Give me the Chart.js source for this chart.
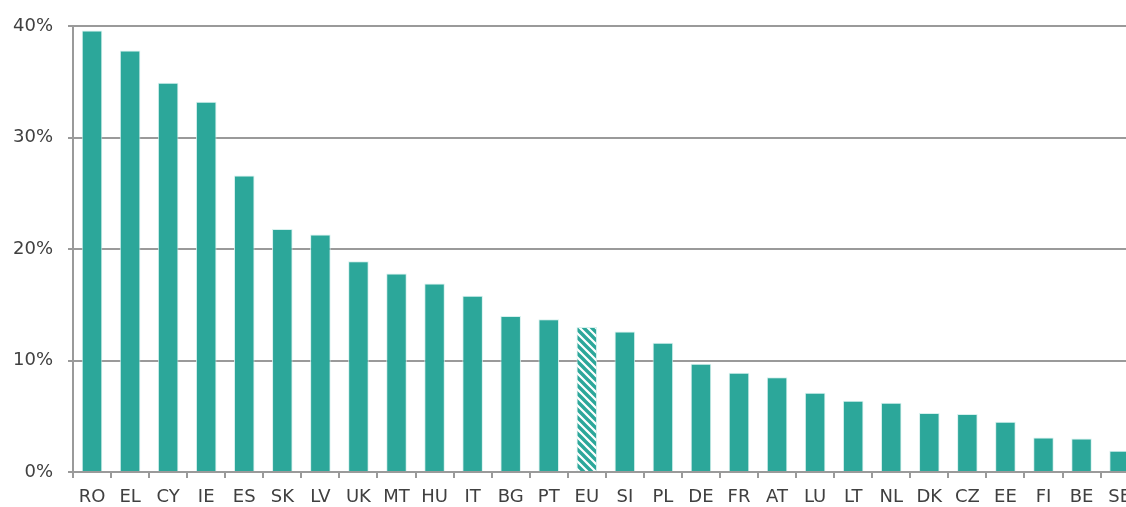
<!DOCTYPE html>
<html>
<head>
<meta charset="utf-8">
<script src="https://cdn.jsdelivr.net/npm/chart.js@4"></script>
<style>
  html, body { margin: 0; padding: 0; background: #fff; overflow: hidden; }
  #wrap { width: 1140px; height: 507px; position: relative; }
</style>
</head>
<body>
<div id="wrap"><canvas id="shareChart"></canvas></div>
<script>
// country codes along the x axis
const countries = ['RO', 'EL', 'CY', 'IE', 'ES', 'SK', 'LV', 'UK', 'MT', 'HU', 'IT', 'BG', 'PT', 'EU',
                   'SI', 'PL', 'DE', 'FR', 'AT', 'LU', 'LT', 'NL', 'DK', 'CZ', 'EE', 'FI', 'BE', 'SE'];
// share in %
const shares = [39.6, 37.8, 34.9, 33.2, 26.6, 21.8, 21.3, 18.9, 17.8, 16.9, 15.8, 14.0, 13.7, 13.0,
                12.6, 11.6, 9.7, 8.9, 8.5, 7.1, 6.4, 6.2, 5.3, 5.2, 4.5, 3.1, 3.0, 1.9];
const yTicks = [0, 10, 20, 30, 40];

const teal = '#2ca79a';

// striped fill for the EU average bar
function makeHatch() {
    const s = 8;
    const c = document.createElement('canvas');
    c.width = s; c.height = s;
    const g = c.getContext('2d');
    g.fillStyle = '#ffffff';
    g.fillRect(0, 0, s, s);
    g.strokeStyle = teal;
    g.lineWidth = 3.4;
    g.beginPath();
    g.moveTo(-s, 0); g.lineTo(s, 2 * s);
    g.moveTo(0, 0); g.lineTo(s, s);
    g.moveTo(0, -s); g.lineTo(2 * s, s);
    g.stroke();
    return g.createPattern(c, 'repeat');
}
const hatch = makeHatch();

const fills = countries.map(c => c === 'EU' ? hatch : teal);

const ctx = document.getElementById('shareChart');
new Chart(ctx, {
    type: 'bar',
    data: {
        labels: countries,
        datasets: [{
            data: shares,
            backgroundColor: fills,
            borderColor: 'rgba(210, 240, 236, 0.9)',
            borderWidth: 1,
            borderSkipped: 'bottom',
            categoryPercentage: 1.0,
            barPercentage: 0.54
        }]
    },
    options: {
        responsive: true,
        maintainAspectRatio: false,
        animation: false,
        layout: { padding: { top: 26, right: 0, left: 0, bottom: 0 } },
        plugins: {
            legend: { display: false },
            tooltip: { enabled: false }
        },
        scales: {
            x: {
                offset: true,
                afterFit: axis => { axis.height = 35; },
                border: { display: true, color: '#9a9a9a', width: 2 },
                grid: {
                    offset: true,
                    drawOnChartArea: false,
                    drawTicks: true,
                    tickLength: 6,
                    color: '#9a9a9a',
                    lineWidth: 2
                },
                ticks: {
                    color: '#404040',
                    font: { family: 'DejaVu Sans', size: 18 },
                    padding: 9,
                    maxRotation: 0,
                    autoSkip: false
                }
            },
            y: {
                min: 0,
                max: 40,
                afterBuildTicks: axis => { axis.ticks = yTicks.map(v => ({ value: v })); },
                afterFit: axis => { axis.width = 73; },
                border: { display: true, color: '#9a9a9a', width: 2 },
                grid: {
                    color: '#9a9a9a',
                    lineWidth: 2,
                    tickLength: 5
                },
                ticks: {
                    color: '#404040',
                    font: { family: 'DejaVu Sans', size: 18 },
                    padding: 15,
                    callback: v => v + '%'
                }
            }
        }
    }
});
</script>
</body>
</html>
